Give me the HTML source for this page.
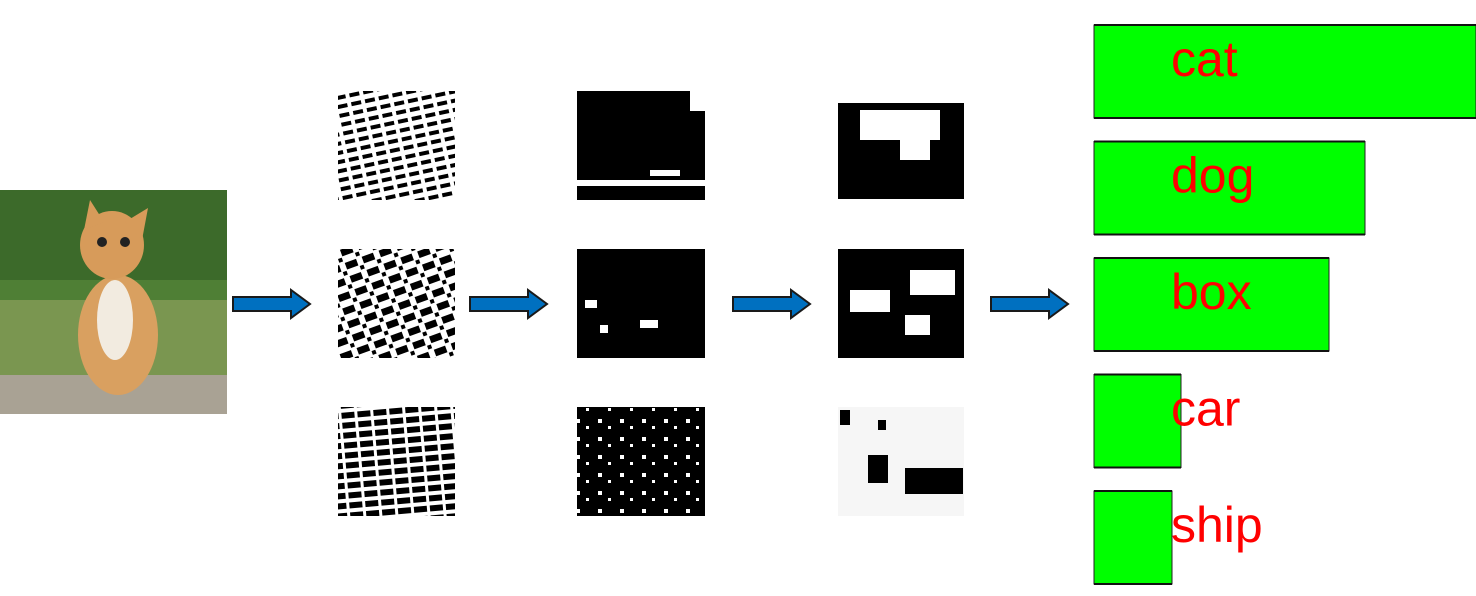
<!DOCTYPE html>
<html><head><meta charset="utf-8"><style>
body{margin:0;width:1476px;height:596px;background:#fff;overflow:hidden;position:relative;font-family:"Liberation Sans",sans-serif}
</style></head><body>
<svg width="1476" height="596" style="position:absolute;left:0;top:0">
<defs>
<pattern id="p1" width="14" height="9" patternUnits="userSpaceOnUse" patternTransform="rotate(-12)">
<rect width="14" height="9" fill="#fff"/><rect y="2" width="10" height="4" fill="#000"/></pattern>
<pattern id="p2" width="18" height="14" patternUnits="userSpaceOnUse" patternTransform="rotate(-20)">
<rect width="18" height="14" fill="#fff"/><rect y="1" width="12" height="7" fill="#000"/><rect x="13" y="9" width="4" height="4" fill="#000"/></pattern>
<pattern id="p3" width="16" height="10" patternUnits="userSpaceOnUse" patternTransform="rotate(-5)">
<rect width="16" height="10" fill="#fff"/><rect y="1" width="13" height="6" fill="#000"/></pattern>
<pattern id="p4" width="22" height="18" patternUnits="userSpaceOnUse">
<rect width="22" height="18" fill="#000"/><rect x="4" y="5" width="4" height="4" fill="#fff"/><rect x="14" y="12" width="3" height="3" fill="#fff"/></pattern>
</defs>
<g>
<rect x="0" y="190" width="227" height="224" fill="#4f7f35"/>
<rect x="0" y="190" width="227" height="90" fill="#3c6a2a"/>
<rect x="0" y="300" width="227" height="80" fill="#7a9650"/>
<rect x="0" y="375" width="227" height="39" fill="#a9a294"/>
<ellipse cx="118" cy="335" rx="40" ry="60" fill="#d9a060"/>
<ellipse cx="112" cy="245" rx="32" ry="34" fill="#d79b5a"/>
<polygon points="84,230 90,200 104,222" fill="#d79b5a"/>
<polygon points="125,222 148,208 142,240" fill="#d79b5a"/>
<ellipse cx="115" cy="320" rx="18" ry="40" fill="#f2ebe0"/>
<circle cx="102" cy="242" r="5" fill="#222"/><circle cx="125" cy="242" r="5" fill="#222"/>
</g>
<g fill="#0070c0" stroke="#1a1a1a" stroke-width="2">
<polygon points="233,297 291,297 291,290 310,304 291,318 291,311 233,311"/>
<polygon points="470,297 528,297 528,290 547,304 528,318 528,311 470,311"/>
<polygon points="733,297 791,297 791,290 810,304 791,318 791,311 733,311"/>
<polygon points="991,297 1049,297 1049,290 1068,304 1049,318 1049,311 991,311"/>
</g>
<g>
<rect x="338" y="91" width="117" height="109" fill="url(#p1)"/>
<rect x="338" y="249" width="117" height="109" fill="url(#p2)"/>
<rect x="338" y="407" width="117" height="109" fill="url(#p3)"/>
</g>
<g>
<rect x="577" y="91" width="128" height="109" fill="#000"/>
<rect x="577" y="180" width="128" height="6" fill="#fff"/><rect x="650" y="170" width="30" height="6" fill="#fff"/>
<rect x="690" y="91" width="15" height="20" fill="#fff"/>
<rect x="577" y="249" width="128" height="109" fill="#000"/>
<rect x="585" y="300" width="12" height="8" fill="#fff"/><rect x="640" y="320" width="18" height="8" fill="#fff"/><rect x="600" y="325" width="8" height="8" fill="#fff"/>
<rect x="577" y="407" width="128" height="109" fill="url(#p4)"/>
</g>
<g>
<rect x="838" y="91" width="126" height="108" fill="#000"/>
<rect x="860" y="110" width="80" height="30" fill="#fff"/><rect x="838" y="91" width="126" height="12" fill="#fff"/><rect x="900" y="140" width="30" height="20" fill="#fff"/>
<rect x="838" y="249" width="126" height="109" fill="#000"/>
<rect x="850" y="290" width="40" height="22" fill="#fff"/><rect x="910" y="270" width="45" height="25" fill="#fff"/><rect x="905" y="315" width="25" height="20" fill="#fff"/>
<rect x="838" y="407" width="126" height="109" fill="#f6f6f6"/>
<rect x="868" y="455" width="20" height="28" fill="#000"/><rect x="905" y="468" width="58" height="26" fill="#000"/><rect x="840" y="410" width="10" height="15" fill="#000"/><rect x="878" y="420" width="8" height="10" fill="#000"/>
</g>
<g id="bars"></g>
</svg>
<script>
const categories=["cat","dog","box","car","ship"];
const scores=[382,271,235,87,78];
const g=document.getElementById('bars');
const ns='http://www.w3.org/2000/svg';
const x0=1094, scale=1, top0=25, step=116.5, bh=93;
categories.forEach((c,i)=>{
  const y=top0+i*step, w=scores[i]*scale;
  const r=document.createElementNS(ns,'rect');
  r.setAttribute('x',x0);r.setAttribute('y',y);r.setAttribute('width',w);r.setAttribute('height',bh);
  r.setAttribute('fill','#00ff00');r.setAttribute('stroke','#222');r.setAttribute('stroke-width','1');
  
  
  g.appendChild(r);
  [y,y+bh].forEach(ly=>{const l=document.createElementNS(ns,'line');
    l.setAttribute('x1',x0);l.setAttribute('x2',x0+w);l.setAttribute('y1',ly);l.setAttribute('y2',ly);
    l.setAttribute('stroke','#111');l.setAttribute('stroke-width','2');g.appendChild(l);});
  const t=document.createElementNS(ns,'text');
  t.setAttribute('x',1171);t.setAttribute('y',y+51);
  t.setAttribute('fill','#ff0000');t.setAttribute('font-size','50');
  t.setAttribute('font-family','"Liberation Sans",sans-serif');
  t.textContent=c;
  
  
  g.appendChild(t);
});
</script>
</body></html>
